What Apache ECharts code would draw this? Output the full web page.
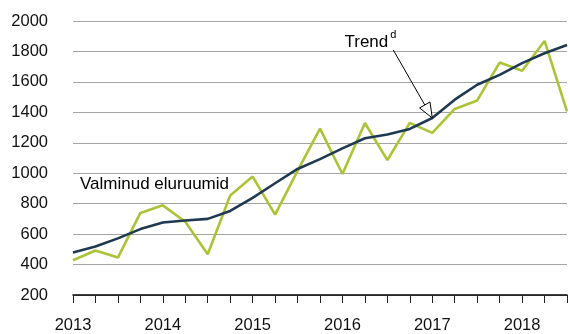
<!DOCTYPE html>
<html>
<head>
<meta charset="utf-8">
<script src="https://cdn.jsdelivr.net/npm/echarts@6/dist/echarts.min.js"></script>
<style>
  html, body { margin: 0; padding: 0; background: #fff; }
  #chart { width: 570px; height: 334px; }
</style>
</head>
<body>
<div id="chart"></div>
<script>
// Quarters 2013 Q1 … 2018 Q3
const years = ['2013', '2014', '2015', '2016', '2017', '2018'];
const quarters = [];
years.forEach(y => ['I', 'II', 'III', 'IV'].forEach(q => quarters.push(y + ' ' + q)));
quarters.length = 23;

// Completed dwellings per quarter
const completed = [428, 492, 446, 739, 789, 681, 468, 854, 978, 728, 1015, 1293,
                   995, 1330, 1086, 1331, 1265, 1422, 1478, 1727, 1673, 1869, 1406];
// Trend component
const trend = [479, 518, 572, 633, 676, 689, 700, 752, 838, 934, 1028, 1093,
               1163, 1230, 1254, 1291, 1363, 1483, 1581, 1646, 1723, 1788, 1842];

const seriesName = 'Valminud eluruumid';
const trendName = 'Trend';
const trendNote = 'd';
const font = 'Liberation Sans, Arial, sans-serif';

const chart = echarts.init(document.getElementById('chart'), null, { renderer: 'canvas' });

chart.setOption({
  animation: false,
  backgroundColor: '#fff',
  textStyle: { fontFamily: font },
  grid: { left: 73, right: 0, top: 21, bottom: 37 },
  xAxis: {
    type: 'category',
    data: quarters,
    boundaryGap: false,
    axisLine: { lineStyle: { color: '#000', width: 1.5 } },
    axisTick: { show: true, interval: 0, length: 8, lineStyle: { color: '#222', width: 1 } },
    axisLabel: {
      interval: 0,
      margin: 22,
      fontSize: 16.5,
      color: '#111',
      fontFamily: font,
      formatter: v => v.endsWith(' I') ? v.split(' ')[0] : ''
    },
    splitLine: { show: false }
  },
  yAxis: {
    type: 'value',
    min: 200,
    max: 2000,
    interval: 200,
    axisLine: { show: false },
    axisTick: { show: false },
    axisLabel: {
      margin: 25, fontSize: 16.5, color: '#111', fontFamily: font,
      formatter: v => String(v)
    },
    splitLine: { lineStyle: { color: '#a4a4a4', width: 1.2 } }
  },
  series: [
    {
      name: seriesName,
      type: 'line',
      data: completed,
      symbol: 'none',
      lineStyle: { color: '#abc437', width: 2.6 },
      z: 2
    },
    {
      name: trendName,
      type: 'line',
      data: trend,
      symbol: 'none',
      lineStyle: { color: '#1f3a50', width: 2.6 },
      z: 3
    }
  ]
});

// Annotations placed from the chart's own scales
const tipIdx = 16;
const tip = chart.convertToPixel({ seriesIndex: 1 }, [tipIdx, trend[tipIdx]]);
const tail = [tip[0] - 39, tip[1] - 68];
const dx = tip[0] - tail[0], dy = tip[1] - tail[1];
const len = Math.hypot(dx, dy);
const ux = dx / len, uy = dy / len;
const headLen = 15, headHalf = 6;
const base = [tip[0] - ux * headLen, tip[1] - uy * headLen];
const px = -uy, py = ux;

const labelAnchor = chart.convertToPixel({ gridIndex: 0 }, [0, 1000]);
const W = chart.getWidth();

chart.setOption({
  graphic: [
    {
      type: 'text',
      left: labelAnchor[0] + 7,
      top: labelAnchor[1] + 3,
      style: { text: seriesName, font: '17px ' + font, fill: '#000' },
      z: 10
    },
    {
      type: 'text',
      right: W - (tail[0] - 5),
      top: tail[1] - 16,
      style: { text: trendName, font: '17px ' + font, fill: '#000' },
      z: 10
    },
    {
      type: 'text',
      left: tail[0] - 3,
      top: tail[1] - 20,
      style: { text: trendNote, font: '11px ' + font, fill: '#000' },
      z: 10
    },
    {
      type: 'line',
      shape: { x1: tail[0], y1: tail[1], x2: base[0], y2: base[1] },
      style: { stroke: '#000', lineWidth: 1 },
      z: 10
    },
    {
      type: 'polygon',
      shape: {
        points: [
          [tip[0], tip[1]],
          [base[0] + px * headHalf, base[1] + py * headHalf],
          [base[0] - px * headHalf, base[1] - py * headHalf]
        ]
      },
      style: { fill: '#fff', stroke: '#000', lineWidth: 1 },
      z: 11
    }
  ]
});
</script>
</body>
</html>
